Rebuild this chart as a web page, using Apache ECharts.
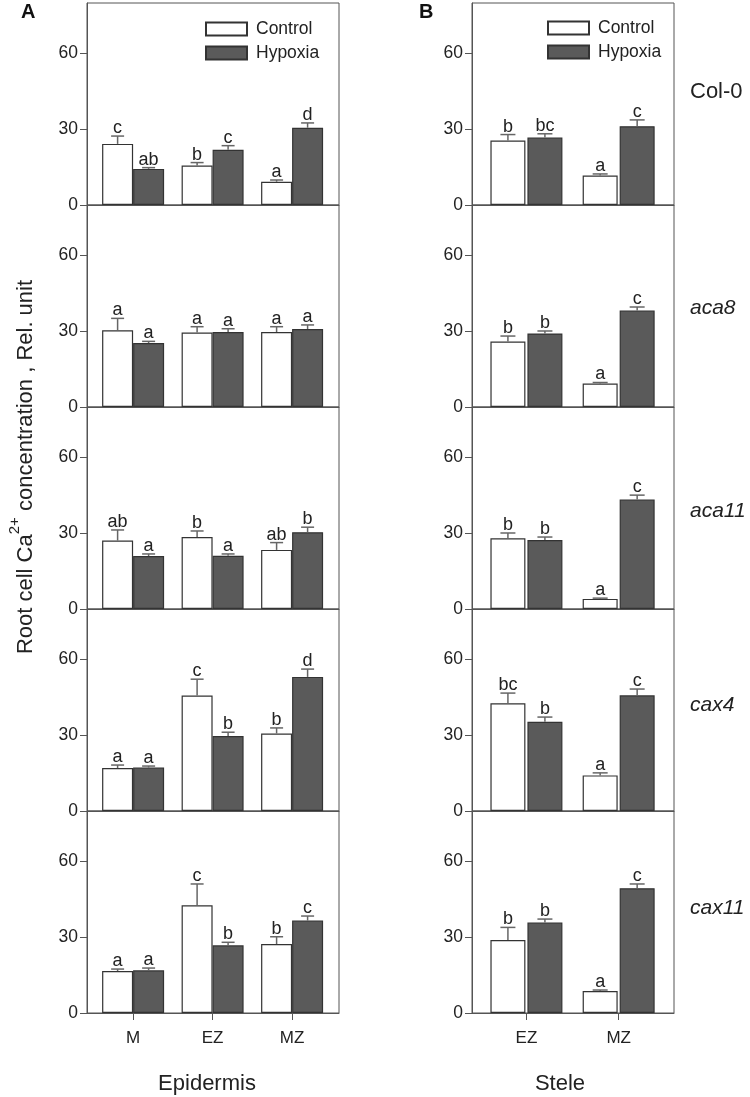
<!DOCTYPE html>
<html><head><meta charset="utf-8">
<script src="https://cdn.jsdelivr.net/npm/echarts@6/dist/echarts.min.js"></script>
<style>html,body{margin:0;padding:0;background:#fff}#c{width:750px;height:1097px}</style>
</head><body><div id="c"></div>
<script>
const genotypes = ['Col-0', 'aca8', 'aca11', 'cax4', 'cax11'];
const epiCategories = ['M', 'EZ', 'MZ'];
const steleCategories = ['EZ', 'MZ'];
const yTickValues = [0, 30, 60];
const seriesNames = ['Control', 'Hypoxia'];

// Epidermis (panel A): rows = genotypes, columns = M, EZ, MZ
const epiControlMean = [[24.2, 15.6, 9.2], [30.4, 29.5, 29.7], [27.1, 28.5, 23.4], [17.0, 45.7, 30.7], [16.6, 42.7, 27.3]];
const epiControlErr  = [[3.1, 1.2, 0.7], [4.7, 2.3, 2.1], [4.2, 2.4, 2.9], [1.2, 6.5, 2.2], [0.8, 8.4, 2.9]];
const epiHypoxiaMean = [[14.3, 21.9, 30.6], [25.3, 29.7, 30.9], [21.0, 21.1, 30.4], [17.2, 29.7, 53.1], [16.9, 26.8, 36.6]];
const epiHypoxiaErr  = [[0.5, 1.6, 1.9], [0.7, 1.3, 1.6], [0.8, 0.7, 2.0], [0.6, 1.5, 3.1], [0.9, 1.2, 1.8]];
const epiControlLetters = [['c', 'b', 'a'], ['a', 'a', 'a'], ['ab', 'b', 'ab'], ['a', 'c', 'b'], ['a', 'c', 'b']];
const epiHypoxiaLetters = [['ab', 'c', 'd'], ['a', 'a', 'a'], ['a', 'a', 'b'], ['a', 'b', 'd'], ['a', 'b', 'c']];

// Stele (panel B): columns = EZ, MZ
const steleControlMean = [[25.5, 11.7], [25.9, 9.3], [28.0, 4.0], [42.7, 14.1], [28.9, 8.7]];
const steleControlErr  = [[2.4, 0.6], [2.2, 0.4], [2.1, 0.3], [4.0, 1.0], [5.0, 0.4]];
const steleHypoxiaMean = [[26.7, 31.2], [29.1, 38.2], [27.3, 43.4], [35.3, 45.8], [35.8, 49.4]];
const steleHypoxiaErr  = [[1.5, 2.5], [1.0, 1.4], [1.2, 1.7], [1.9, 2.5], [1.4, 1.7]];
const steleControlLetters = [['b', 'a'], ['b', 'a'], ['b', 'a'], ['bc', 'a'], ['b', 'a']];
const steleHypoxiaLetters = [['bc', 'c'], ['b', 'c'], ['b', 'c'], ['b', 'c'], ['b', 'c']];

const FONT = 'Liberation Sans, Arial, Helvetica, sans-serif';
const AXIS = '#555';
const TXT = '#222';

const grids = [], xAxes = [], yAxes = [], series = [];
const sides = [
  {left: 87, width: 252, min: 0.42, max: 3.59, cats: epiCategories, bw: 31, gap: 0, cap: 6.5,
   cm: epiControlMean, ce: epiControlErr, hm: epiHypoxiaMean, he: epiHypoxiaErr, cl: epiControlLetters, hl: epiHypoxiaLetters},
  {left: 472, width: 202, min: 0.41, max: 2.6, cats: steleCategories, bw: 35, gap: 2, cap: 7.5,
   cm: steleControlMean, ce: steleControlErr, hm: steleHypoxiaMean, he: steleHypoxiaErr, cl: steleControlLetters, hl: steleHypoxiaLetters}
];

function errSeries(gi, xs, means, errs, letters, offset, capHalf) {
  return {
    type: 'custom', xAxisIndex: gi, yAxisIndex: gi, z: 5, silent: true, name: 'err',
    data: xs.map((x, i) => [x, means[i], errs[i]]),
    renderItem: (params, api) => {
      const x = api.value(0), m = api.value(1), e = api.value(2);
      const p0 = api.coord([x, m]);
      const p1 = api.coord([x, m + e]);
      const cx = p0[0] + offset;
      return {type: 'group', children: [
        {type: 'line', shape: {x1: cx, y1: p0[1], x2: cx, y2: p1[1]}, style: {stroke: '#666', lineWidth: 1.5}},
        {type: 'line', shape: {x1: cx - capHalf, y1: p1[1], x2: cx + capHalf, y2: p1[1]}, style: {stroke: '#666', lineWidth: 1.5}},
        {type: 'text', style: {text: letters[params.dataIndex], x: cx, y: p1[1] + 1, align: 'center', verticalAlign: 'bottom',
          fontSize: 18, fontFamily: FONT, fill: TXT}}
      ]};
    }
  };
}

genotypes.forEach((g, r) => {
  sides.forEach((s, si) => {
    const gi = grids.length;
    const last = r === genotypes.length - 1;
    grids.push({left: s.left, top: 3 + 202 * r, width: s.width, height: 202, show: true, borderColor: AXIS, borderWidth: 1, backgroundColor: 'transparent'});
    const xs = s.cats.map((c, i) => i + 1);
    xAxes.push({
      type: 'value', gridIndex: gi, min: s.min, max: s.max,
      axisLine: {show: true, lineStyle: {color: AXIS, width: 1}},
      axisTick: {show: last, customValues: xs, length: 7, lineStyle: {color: AXIS}},
      axisLabel: {show: last, customValues: xs, formatter: v => s.cats[Math.round(v) - 1] || '', fontSize: 17, color: TXT, fontFamily: FONT, margin: 17},
      splitLine: {show: false}
    });
    yAxes.push({
      type: 'value', gridIndex: gi, min: 0, max: 80,
      axisLine: {show: true, lineStyle: {color: AXIS, width: 1}},
      axisTick: {show: true, customValues: yTickValues, length: 7, lineStyle: {color: AXIS}},
      axisLabel: {show: true, customValues: yTickValues, fontSize: 17.5, color: TXT, fontFamily: FONT, margin: 9},
      splitLine: {show: false}
    });
    series.push({
      type: 'bar', name: seriesNames[0], xAxisIndex: gi, yAxisIndex: gi, barWidth: s.bw, barGap: (s.gap / s.bw * 100) + '%',
      data: xs.map((x, i) => [x, s.cm[r][i]]),
      itemStyle: {color: '#ffffff', borderColor: '#333', borderWidth: 1.2}, silent: true
    });
    series.push({
      type: 'bar', name: seriesNames[1], xAxisIndex: gi, yAxisIndex: gi, barWidth: s.bw, barGap: (s.gap / s.bw * 100) + '%',
      data: xs.map((x, i) => [x, s.hm[r][i]]),
      itemStyle: {color: '#5a5a5a', borderColor: '#333', borderWidth: 1.2}, silent: true
    });
    const off = (s.bw + s.gap) / 2;
    series.push(errSeries(gi, xs, s.cm[r], s.ce[r], s.cl[r], -off, s.cap));
    series.push(errSeries(gi, xs, s.hm[r], s.he[r], s.hl[r], off, s.cap));
  });
});

const genoY = [92, 308, 511, 705, 908];
const graphic = [
  {type: 'text', style: {text: 'A', x: 21, y: 12, verticalAlign: 'middle', fontSize: 20, fontWeight: 'bold', fontFamily: FONT, fill: '#111'}},
  {type: 'text', style: {text: 'B', x: 419, y: 12, verticalAlign: 'middle', fontSize: 20, fontWeight: 'bold', fontFamily: FONT, fill: '#111'}},
  {type: 'text', x: 22, y: 467, rotation: Math.PI / 2, style: {
    text: '{n|Root cell Ca}{s|2+}{n| concentration , Rel. unit}', align: 'center', verticalAlign: 'middle',
    rich: {n: {fontSize: 22, fontFamily: FONT, fill: TXT, lineHeight: 30, verticalAlign: 'bottom'},
           s: {fontSize: 15, fontFamily: FONT, fill: TXT, lineHeight: 30, verticalAlign: 'top'}}
  }},
  {type: 'text', style: {text: 'Epidermis', x: 207, y: 1084, align: 'center', verticalAlign: 'middle', fontSize: 22, fontFamily: FONT, fill: TXT}},
  {type: 'text', style: {text: 'Stele', x: 560, y: 1084, align: 'center', verticalAlign: 'middle', fontSize: 22, fontFamily: FONT, fill: TXT}}
];
genotypes.forEach((g, r) => {
  graphic.push({type: 'text', style: {text: g, x: 690, y: genoY[r], verticalAlign: 'middle', fontSize: r === 0 ? 22 : 21,
    fontStyle: r === 0 ? 'normal' : 'italic', fontFamily: FONT, fill: TXT}});
});

const legendBase = {orient: 'vertical', itemWidth: 41, itemHeight: 13, itemGap: 6, data: seriesNames, padding: 0,
  selectedMode: false, icon: 'rect', textStyle: {fontSize: 17.5, color: TXT, fontFamily: FONT, padding: [0, 0, 0, 4]}};

const chart = echarts.init(document.getElementById('c'), null, {renderer: 'canvas'});
chart.setOption({
  animation: false,
  backgroundColor: '#fff',
  grid: grids, xAxis: xAxes, yAxis: yAxes, series: series,
  legend: [Object.assign({left: 205, top: 20}, legendBase), Object.assign({left: 547, top: 19}, legendBase)],
  graphic: graphic
});
</script></body></html>
